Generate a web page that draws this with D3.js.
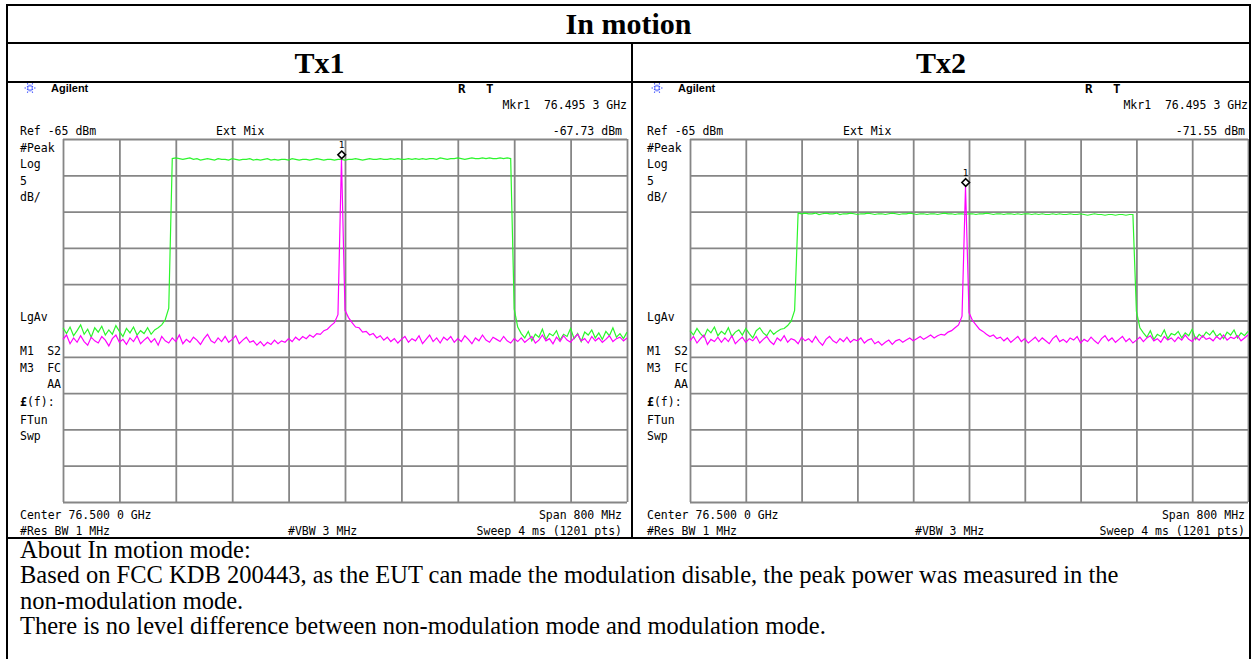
<!DOCTYPE html>
<html>
<head>
<meta charset="utf-8">
<script src="https://cdn.jsdelivr.net/npm/d3@7"></script>
<style>
  body { margin: 0; background: #fff; }
  .inst { font-family: "DejaVu Sans Mono", monospace; font-size: 11.5px; fill: #000; white-space: pre; }
  .serif { font-family: "Liberation Serif", "Times New Roman", serif; fill: #000; }
</style>
</head>
<body>
<svg id="chart" width="1257" height="659"></svg>
<script>
// analyzer settings (same on both screens)
var refLevel = -65;        // dBm at top of graticule
var dbPerDiv = 5;
var spanMHz = 800;
// 5 MHz steps, offsets from the 76.500 GHz centre
var freqOffsets = d3.range(-spanMHz / 2, spanMHz / 2 + 1, 5);

var tableTitle = "In motion";
var panelTitles = ["Tx1", "Tx2"];
var markerFreqText = ["Mkr1  76.495 3 GHz", "Mkr1  76.495 3 GHz"];
var markerReadouts = ["-67.73 dBm", "-71.55 dBm"];
var markerOffsets = [-4.7, -4.7];      // MHz
var markerLevels = [-67.73, -71.55];   // dBm

// green = modulated (chirp), magenta = CW
var tx1Green = [
  -91.0, -91.8, -90.9, -92.1, -91.4, -90.6, -91.9, -91.2, -92.3, -91.0,
  -91.6, -90.8, -92.0, -91.3, -91.9, -90.7, -91.5, -92.2, -91.1, -91.7,
  -90.9, -92.0, -91.4, -91.8, -91.0, -91.9, -91.3, -91.0, -90.6, -89.9,
  -88.3, -67.7, -67.6, -67.7, -67.8, -67.7, -67.6, -67.8, -67.7, -67.9,
  -67.8, -67.7, -67.8, -67.9, -67.7, -67.8, -67.8, -67.9, -67.7, -67.8,
  -67.9, -67.8, -67.8, -67.7, -67.9, -67.8, -67.9, -67.8, -67.7, -67.9,
  -67.8, -67.9, -67.8, -67.8, -67.9, -67.7, -67.8, -67.9, -67.8, -67.8,
  -67.9, -67.8, -67.7, -67.8, -67.9, -67.8, -67.8, -67.9, -67.8, -67.8,
  -67.9, -67.8, -67.8, -67.7, -67.8, -67.9, -67.8, -67.7, -67.8, -67.8,
  -67.7, -67.8, -67.8, -67.7, -67.8, -67.7, -67.8, -67.8, -67.7, -67.8,
  -67.7, -67.8, -67.7, -67.8, -67.7, -67.7, -67.8, -67.6, -67.7, -67.8,
  -67.7, -67.7, -67.6, -67.7, -67.8, -67.7, -67.6, -67.7, -67.7, -67.6,
  -67.7, -67.6, -67.7, -67.7, -67.6, -67.7, -67.6, -67.7, -88.4, -90.9,
  -91.8, -92.4, -91.5, -92.8, -91.9, -92.3, -91.2, -92.6, -91.8, -92.1,
  -91.4, -92.7, -91.9, -92.2, -91.1, -92.5, -91.8, -92.9, -91.6, -92.0,
  -91.3, -92.4, -91.7, -92.6, -91.5, -92.1, -91.0, -92.3, -91.8, -92.5,
  -91.6
];
var tx1Magenta = [
  -92.6, -92.0, -93.2, -92.4, -93.0, -92.1, -92.9, -93.4, -92.3, -92.8,
  -93.1, -92.2, -92.7, -93.5, -92.5, -92.0, -93.0, -92.6, -93.3, -92.4,
  -92.9, -92.1, -93.2, -92.7, -92.3, -93.0, -92.5, -93.4, -92.2, -92.8,
  -93.1, -92.4, -92.9, -92.0, -93.2, -92.6, -93.0, -92.3, -92.7, -93.3,
  -92.5, -91.9, -92.8, -93.1, -92.4, -92.9, -92.2, -93.0, -92.6, -92.1,
  -93.2, -92.7, -92.3, -93.0, -92.8, -93.4, -92.9, -93.5, -93.0, -93.3,
  -92.7, -93.2, -92.8, -93.0, -92.5, -92.9, -92.3, -92.7, -92.2, -92.5,
  -92.0, -92.3, -91.8, -91.9, -91.4, -91.2, -90.7, -90.3, -89.2, -67.73,
  -88.6, -89.6, -90.3, -90.9, -91.0, -91.6, -91.5, -92.0, -91.8, -92.4,
  -92.1, -92.7, -92.3, -92.9, -92.5, -93.1, -92.6, -92.2, -93.0, -92.5,
  -92.8, -92.1, -93.2, -92.6, -92.0, -92.9, -92.4, -93.1, -92.3, -92.7,
  -92.2, -93.0, -92.5, -92.9, -92.1, -92.6, -93.2, -92.4, -92.8, -92.0,
  -92.7, -93.0, -92.3, -92.6, -92.9, -92.2, -92.8, -93.1, -92.5, -92.9,
  -92.4, -93.0, -92.6, -92.2, -93.1, -92.7, -92.0, -92.8, -92.5, -93.2,
  -92.3, -92.9, -92.1, -92.7, -93.0, -92.4, -91.9, -92.8, -92.5, -93.1,
  -92.2, -92.8, -92.4, -93.0, -92.6, -92.1, -92.9, -92.5, -92.3, -92.8,
  -92.4
];
var tx2Green = [
  -91.4, -92.0, -91.1, -91.8, -92.3, -91.2, -91.7, -90.9, -92.1, -91.5,
  -91.9, -91.0, -92.2, -91.6, -91.3, -92.0, -91.1, -91.8, -92.4, -91.4,
  -91.0, -91.7, -92.1, -91.3, -91.9, -91.5, -91.2, -91.1, -90.7, -90.1,
  -88.6, -75.2, -75.3, -75.2, -75.3, -75.3, -75.2, -75.4, -75.3, -75.2,
  -75.3, -75.3, -75.2, -75.4, -75.3, -75.3, -75.2, -75.3, -75.4, -75.3,
  -75.3, -75.2, -75.3, -75.4, -75.3, -75.3, -75.4, -75.3, -75.2, -75.3,
  -75.4, -75.3, -75.3, -75.2, -75.3, -75.4, -75.3, -75.3, -75.4, -75.3,
  -75.3, -75.4, -75.3, -75.2, -75.3, -75.3, -75.4, -75.3, -75.3, -75.4,
  -75.3, -75.3, -75.4, -75.3, -75.3, -75.2, -75.3, -75.4, -75.3, -75.3,
  -75.4, -75.3, -75.3, -75.4, -75.3, -75.4, -75.3, -75.3, -75.4, -75.3,
  -75.4, -75.3, -75.4, -75.4, -75.3, -75.4, -75.3, -75.4, -75.4, -75.3,
  -75.4, -75.4, -75.3, -75.4, -75.5, -75.4, -75.3, -75.4, -75.4, -75.5,
  -75.4, -75.4, -75.5, -75.4, -75.4, -75.5, -75.4, -75.4, -88.7, -91.0,
  -91.7, -92.3, -91.4, -92.6, -91.9, -92.2, -91.3, -92.5, -91.8, -92.0,
  -91.5, -92.4, -91.7, -92.1, -91.2, -92.6, -91.9, -92.3, -91.6, -92.0,
  -91.4, -92.2, -91.8, -92.5, -91.6, -92.0, -91.3, -92.4, -91.7, -92.1,
  -91.5
];
var tx2Magenta = [
  -92.8, -92.2, -93.1, -92.5, -92.0, -93.3, -92.6, -92.9, -92.3, -93.0,
  -92.4, -92.9, -92.1, -93.2, -92.7, -92.3, -93.0, -92.5, -92.8, -92.2,
  -93.1, -92.6, -92.2, -92.9, -93.3, -92.4, -92.8, -92.1, -93.0, -92.5,
  -92.7, -93.2, -92.3, -92.8, -92.5, -93.0, -92.2, -92.9, -93.4, -92.6,
  -92.2, -92.8, -93.1, -92.5, -92.9, -92.3, -93.0, -92.6, -92.8, -92.4,
  -93.1, -92.7, -92.5, -93.2, -92.9, -93.4, -93.0, -92.7, -93.3, -92.8,
  -92.6, -93.0, -92.7, -92.4, -92.8, -92.5, -92.2, -92.6, -92.3, -92.0,
  -92.4, -92.1, -91.9, -92.0, -91.6, -91.4, -91.0, -90.6, -89.4, -71.55,
  -88.9, -90.0, -90.6, -91.2, -91.5, -91.9, -92.2, -92.0, -92.5, -92.3,
  -92.8, -92.4, -93.0, -92.6, -92.2, -92.9, -92.5, -93.1, -92.7, -92.3,
  -92.9, -92.4, -92.8, -93.2, -92.5, -92.1, -92.9, -92.6, -93.0, -92.4,
  -92.7, -92.2, -93.1, -92.6, -92.9, -92.3, -92.8, -93.2, -92.5, -92.1,
  -92.8, -92.4, -93.0, -92.6, -92.2, -92.9, -92.5, -93.1, -92.7, -92.3,
  -92.9, -92.4, -92.1, -92.8, -92.5, -93.0, -92.2, -92.7, -92.4, -92.9,
  -92.3, -92.7, -92.0, -92.6, -92.9, -92.3, -92.7, -92.1, -92.6, -92.4,
  -92.8, -92.2, -92.6, -92.0, -92.7, -92.3, -92.5, -92.1, -92.8, -92.4,
  -92.0
];

var noteLines = [
  "About In motion mode:",
  "Based on FCC KDB 200443, as the EUT can made the modulation disable, the peak power was measured in the",
  "non-modulation mode.",
  "There is no level difference between non-modulation mode and modulation mode."
];

var svg = d3.select("#chart");
svg.append("rect").attr("width", 1257).attr("height", 659).attr("fill", "#fff");

// screen layout of the two analyzer captures
var panels = [
  {ox: 0,   gx0: 63,  gx1: 627,  right: 622,  green: tx1Green, magenta: tx1Magenta},
  {ox: 627, gx0: 690, gx1: 1248, right: 1245, green: tx2Green, magenta: tx2Magenta}
];
var gy0 = 139, gy1 = 502;

function label(g, x, y, s, anchor, extra) {
  var t = g.append("text").attr("class", "inst")
    .attr("x", x).attr("y", y)
    .attr("text-anchor", anchor || "start")
    .text(s);
  if (extra) extra(t);
  return t;
}

function drawLogo(g, cx, cy) {
  // little Agilent spark
  for (var a = 0; a < 12; a++) {
    var ang = a * Math.PI / 6;
    var r1 = a % 2 ? 2 : 1.5, r2 = a % 2 ? 4.5 : 6.5;
    g.append("line")
      .attr("x1", cx + r1 * Math.cos(ang)).attr("y1", cy + r1 * Math.sin(ang))
      .attr("x2", cx + r2 * Math.cos(ang)).attr("y2", cy + r2 * Math.sin(ang))
      .attr("stroke", "#3f52ff").attr("stroke-width", 1.1)
      .attr("stroke-dasharray", "1.5,1");
  }
}

function drawPanel(p, i) {
  var g = svg.append("g");
  var ox = p.ox;

  var x = d3.scaleLinear().domain([-spanMHz / 2, spanMHz / 2]).range([p.gx0, p.gx1]);
  var y = d3.scaleLinear().domain([refLevel, refLevel - 10 * dbPerDiv]).range([gy0, gy1]);

  // graticule, 10 x 10 divisions
  g.append("g").attr("class", "grid")
    .attr("transform", "translate(0," + gy1 + ")")
    .call(d3.axisBottom(x).tickValues(d3.range(-400, 401, 80)).tickSize(-(gy1 - gy0)).tickFormat(""));
  g.append("g").attr("class", "grid")
    .attr("transform", "translate(" + p.gx0 + ",0)")
    .call(d3.axisLeft(y).tickValues(d3.range(-115, -64, 5)).tickSize(-(p.gx1 - p.gx0)).tickFormat(""));
  g.selectAll(".grid .domain").remove();
  g.selectAll(".grid line").attr("stroke", "#868686").attr("stroke-width", 1.8);

  var line = d3.line()
    .x(function(d, k) { return x(freqOffsets[k]); })
    .y(function(d) { return y(d); });

  g.append("path").datum(p.green)
    .attr("d", line).attr("fill", "none")
    .attr("stroke", "#2cf52c").attr("stroke-width", 1.2);
  g.append("path").datum(p.magenta)
    .attr("d", line).attr("fill", "none")
    .attr("stroke", "#ff00ff").attr("stroke-width", 1.2);

  // marker 1
  var mx = x(markerOffsets[i]), my = y(markerLevels[i]) - 4;
  g.append("path")
    .attr("d", "M" + mx + "," + (my - 3.8) + "L" + (mx + 3.8) + "," + my + "L" + mx + "," + (my + 3.8) + "L" + (mx - 3.8) + "," + my + "Z")
    .attr("fill", "#fff").attr("stroke", "#000").attr("stroke-width", 1.6);
  label(g, mx, my - 6.5, "1", "middle", function(t) { t.style("font-size", "9.5px"); });

  // header
  drawLogo(g, 30 + ox, 88);
  g.append("text").attr("x", 51 + ox).attr("y", 92)
    .style("font-family", "Liberation Sans, Arial, sans-serif")
    .style("font-size", "11px").style("font-weight", "bold").text("Agilent");
  label(g, 458 + ox, 93, "R", "start", function(t) { t.style("font-weight", "bold").style("font-size", "12.5px"); });
  label(g, 486 + ox, 93, "T", "start", function(t) { t.style("font-weight", "bold").style("font-size", "12.5px"); });
  label(g, p.gx1, 109, markerFreqText[i], "end");
  label(g, 20 + ox, 135, "Ref -65 dBm");
  label(g, 216 + ox, 135, "Ext Mix");
  label(g, p.right, 135, markerReadouts[i], "end");

  // left annotations
  label(g, 20 + ox, 152, "#Peak");
  label(g, 20 + ox, 168, "Log");
  label(g, 20 + ox, 185, "5");
  label(g, 20 + ox, 201, "dB/");
  label(g, 20 + ox, 321, "LgAv");
  label(g, 20 + ox, 355, "M1");
  label(g, p.gx0 - 2, 355, "S2", "end");
  label(g, 20 + ox, 372, "M3");
  label(g, p.gx0 - 2, 372, "FC", "end");
  label(g, p.gx0 - 2, 388, "AA", "end");
  var f = label(g, 20 + ox, 406, "");
  f.append("tspan").style("font-weight", "bold").text("£");
  f.append("tspan").text("(f):");
  label(g, 20 + ox, 424, "FTun");
  label(g, 20 + ox, 440, "Swp");

  // footer
  label(g, 20 + ox, 519, "Center 76.500 0 GHz");
  label(g, p.right, 519, "Span 800 MHz", "end");
  label(g, 20 + ox, 535, "#Res BW 1 MHz");
  label(g, 288 + ox, 535, "#VBW 3 MHz");
  label(g, p.right, 535, "Sweep 4 ms (1201 pts)", "end");
}

panels.forEach(drawPanel);

// table frame
var frame = svg.append("g").attr("stroke", "#000").attr("stroke-width", 2);
[5, 43, 82, 538].forEach(function(yy) {
  frame.append("line").attr("x1", 6).attr("x2", 1251).attr("y1", yy).attr("y2", yy);
});
frame.append("line").attr("x1", 7).attr("x2", 7).attr("y1", 4).attr("y2", 659);
frame.append("line").attr("x1", 1250).attr("x2", 1250).attr("y1", 4).attr("y2", 659);
frame.append("line").attr("x1", 632).attr("x2", 632).attr("y1", 43).attr("y2", 538);

svg.append("text").attr("class", "serif")
  .attr("x", 628.5).attr("y", 34).attr("text-anchor", "middle")
  .style("font-size", "30px").style("font-weight", "bold").text(tableTitle);
svg.selectAll(".ptitle").data(panelTitles).enter().append("text")
  .attr("class", "serif ptitle")
  .attr("x", function(d, i) { return i === 0 ? 319.5 : 941; })
  .attr("y", 73).attr("text-anchor", "middle")
  .style("font-size", "30px").style("font-weight", "bold")
  .text(function(d) { return d; });

svg.selectAll(".note").data(noteLines).enter().append("text")
  .attr("class", "serif note")
  .attr("x", 20)
  .attr("y", function(d, i) { return 558 + i * 25.3; })
  .style("font-size", "24.5px")
  .text(function(d) { return d; });
</script>
</body>
</html>
